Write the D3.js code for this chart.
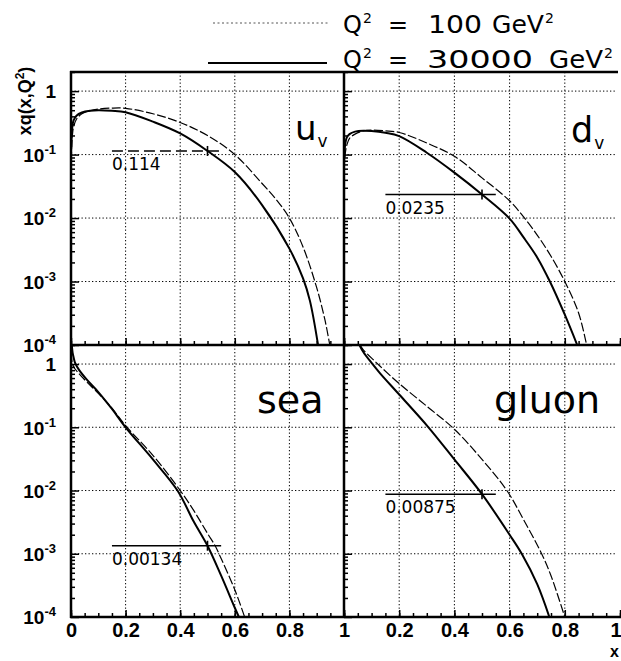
<!DOCTYPE html>
<html>
<head>
<meta charset="utf-8">
<script src="https://cdn.jsdelivr.net/npm/d3@7"></script>
<style>
  html, body { margin: 0; padding: 0; background: #fff; }
  svg { display: block; }
</style>
</head>
<body>
<svg id="chart" width="621" height="661"></svg>
<script>
// Parton distributions x q(x,Q^2) at two scales, four flavours.

// u valence
const uvX100   = [0.001,0.003,0.006,0.01,0.02,0.04,0.07,0.1,0.15,0.2,0.3,0.4,0.5,0.6,0.7,0.75,0.8,0.85,0.9,0.93,0.948];
const uvQ100   = [0.08,0.15,0.22,0.28,0.36,0.44,0.49,0.52,0.54,0.536,0.44,0.32,0.20,0.10,0.035,0.02,0.0100,0.0035,0.0008,0.00025,0.0001];
const uvX30000 = [0.001,0.003,0.006,0.01,0.02,0.04,0.07,0.1,0.15,0.2,0.3,0.4,0.5,0.6,0.7,0.8,0.85,0.875,0.905];
const uvQ30000 = [0.13,0.22,0.30,0.35,0.41,0.46,0.49,0.50,0.49,0.465,0.33,0.215,0.114,0.053,0.016,0.0033,0.00112,0.0005,0.0001];

// d valence
const dvX100   = [0.001,0.003,0.006,0.01,0.02,0.04,0.07,0.1,0.15,0.2,0.3,0.4,0.5,0.6,0.65,0.7,0.75,0.8,0.85,0.879];
const dvQ100   = [0.06,0.09,0.115,0.14,0.18,0.21,0.235,0.242,0.236,0.223,0.152,0.094,0.043,0.0187,0.0105,0.0054,0.0025,0.001,0.00032,0.0001];
const dvX30000 = [0.001,0.003,0.006,0.01,0.02,0.04,0.07,0.1,0.15,0.2,0.3,0.4,0.5,0.6,0.65,0.7,0.746,0.8,0.845];
const dvQ30000 = [0.09,0.13,0.16,0.185,0.21,0.23,0.238,0.235,0.22,0.195,0.107,0.052,0.0235,0.0098,0.005,0.0024,0.001,0.0003,0.0001];

// sea
const seaX100   = [0.001,0.003,0.01,0.03,0.058,0.1,0.15,0.2,0.3,0.4,0.45,0.5,0.528,0.542,0.6,0.636];
const seaQ100   = [1.5,1.15,0.9,0.70,0.52,0.345,0.2,0.106,0.036,0.01,0.0048,0.0021,0.00134,0.001,0.00027,0.0001];
const seaX30000 = [0.001,0.003,0.006,0.01,0.015,0.03,0.058,0.1,0.15,0.2,0.3,0.39,0.45,0.5,0.55,0.6,0.615];
const seaQ30000 = [3.2,2.0,1.5,1.25,1.04,0.80,0.565,0.36,0.195,0.1,0.031,0.01,0.0032,0.00134,0.00045,0.00014,0.0001];

// gluon
const gX100   = [0.058,0.07,0.1,0.13,0.2,0.3,0.4,0.5,0.59,0.65,0.716,0.75,0.8];
const gQ100   = [2.0,1.68,1.24,0.93,0.49,0.215,0.093,0.031,0.01,0.0035,0.001,0.00045,0.0001];
const gX30000 = [0.056,0.07,0.1,0.13,0.2,0.306,0.4,0.5,0.6,0.644,0.7,0.744];
const gQ30000 = [2.0,1.55,1.04,0.72,0.33,0.1,0.031,0.00875,0.002,0.001,0.00033,0.0001];

// reference values at x = 0.5 (Q^2 = 30000 GeV^2)
const markNames  = ["uv", "dv", "sea", "gluon"];
const markX      = [0.5, 0.5, 0.5, 0.5];
const markValues = [0.114, 0.0235, 0.00134, 0.00875];
const markLabels = ["0.114", "0.0235", "0.00134", "0.00875"];
const markFrom   = [0.15, 0.15, 0.15, 0.15];
const markTo     = [0.55, 0.55, 0.55, 0.55];

// axis ticks
const xTickValues   = [0, 0.2, 0.4, 0.6, 0.8, 1];
const yDecades      = [1, 1e-1, 1e-2, 1e-3, 1e-4];
const yDecadeLabels = ["1", "10|-1", "10|-2", "10|-3", "10|-4"];

const legendLabels = [
  { q: "Q", eq: "=", num: "100",   unit: "GeV" },
  { q: "Q", eq: "=", num: "30000", unit: "GeV" }
];

const svg = d3.select("#chart");
const TICK_FONT = "'Liberation Sans', Arial, sans-serif";
const LABEL_FONT = "'DejaVu Sans', sans-serif";

// panel layout
const colRange = [[71, 344], [344, 620]];
const rowRange = [[345, 72], [617, 345]];

const panels = [
  { name: "uv",    col: 0, row: 0, lo: [uvX100, uvQ100],   hi: [uvX30000, uvQ30000],   title: "u", sub: "v", tx: 295, ty: 140, fs: 34, markDash: "11,5" },
  { name: "dv",    col: 1, row: 0, lo: [dvX100, dvQ100],   hi: [dvX30000, dvQ30000],   title: "d", sub: "v", tx: 571, ty: 142, fs: 35, markDash: null },
  { name: "sea",   col: 0, row: 1, lo: [seaX100, seaQ100], hi: [seaX30000, seaQ30000], title: "sea",   sub: "", tx: 257, ty: 413, fs: 38, markDash: null },
  { name: "gluon", col: 1, row: 1, lo: [gX100, gQ100],     hi: [gX30000, gQ30000],     title: "gluon", sub: "", tx: 494, ty: 413, fs: 38, markDash: null }
];

const minorY = [];
for (let e = -4; e <= 0; e++) {
  for (let m = 2; m <= 9; m++) {
    const v = m * Math.pow(10, e);
    if (v <= 2) minorY.push(v);
  }
}
const minorX = d3.range(0, 1.0001, 0.05);

const defs = svg.append("defs");

panels.forEach((p, i) => {
  const x = d3.scaleLinear().domain([0, 1]).range(colRange[p.col]);
  const y = d3.scaleLog().domain([1e-4, 2]).range(rowRange[p.row]);
  const g = svg.append("g").attr("class", "panel-" + p.name);

  const x0 = x.range()[0], x1 = x.range()[1];
  const yb = y.range()[0], yt = y.range()[1];

  defs.append("clipPath").attr("id", "clip-" + p.name)
    .append("rect").attr("x", x0).attr("y", yt).attr("width", x1 - x0).attr("height", yb - yt);

  // dotted grid
  const grid = g.append("g").attr("stroke", "#000").attr("stroke-width", 1).attr("stroke-dasharray", "1.3,2.2");
  grid.selectAll("line.gx").data([0.2, 0.4, 0.6, 0.8]).join("line")
    .attr("x1", d => x(d)).attr("x2", d => x(d)).attr("y1", yt).attr("y2", yb);
  grid.selectAll("line.gy").data([1, 1e-1, 1e-2, 1e-3]).join("line")
    .attr("y1", d => y(d)).attr("y2", d => y(d)).attr("x1", x0).attr("x2", x1 - 4);

  // inward ticks on the bottom and left axes
  const bMinor = g.append("g").attr("transform", `translate(0,${yb})`)
    .call(d3.axisBottom(x).tickValues(minorX).tickSize(-4).tickFormat(""));
  const bMajor = g.append("g").attr("transform", `translate(0,${yb})`)
    .call(d3.axisBottom(x).tickValues(xTickValues).tickSize(-7).tickFormat(""));
  const lMinor = g.append("g").attr("transform", `translate(${x0},0)`)
    .call(d3.axisRight(y).tickValues(minorY).tickSize(4).tickFormat(""));
  const lMajor = g.append("g").attr("transform", `translate(${x0},0)`)
    .call(d3.axisRight(y).tickValues(yDecades).tickSize(8).tickFormat(""));
  [bMinor, bMajor, lMinor, lMajor].forEach(a => {
    a.select(".domain").remove();
    a.selectAll("line").attr("stroke", "#000").attr("stroke-width", 1.5);
  });

  // curves
  const line = d3.line()
    .x(d => x(d[0]))
    .y(d => y(d[1]))
    .curve(d3.curveCatmullRom.alpha(0.5));
  const curves = g.append("g").attr("clip-path", `url(#clip-${p.name})`).attr("fill", "none");
  curves.append("path")
    .datum(d3.zip(p.lo[0], p.lo[1]))
    .attr("d", line)
    .attr("stroke", "#000").attr("stroke-width", 1.2).attr("stroke-dasharray", "9,2.5");
  curves.append("path")
    .datum(d3.zip(p.hi[0], p.hi[1]))
    .attr("d", line)
    .attr("stroke", "#000").attr("stroke-width", 2);

  // reference value marker
  const mk = markNames.indexOf(p.name);
  const my = y(markValues[mk]);
  g.append("line")
    .attr("x1", x(markFrom[mk])).attr("x2", x(markTo[mk]))
    .attr("y1", my).attr("y2", my)
    .attr("stroke", "#000").attr("stroke-width", 1.6)
    .attr("stroke-dasharray", p.markDash);
  g.append("line")
    .attr("x1", x(markX[mk])).attr("x2", x(markX[mk]))
    .attr("y1", my - 5).attr("y2", my + 5)
    .attr("stroke", "#000").attr("stroke-width", 1.6);
  g.append("text")
    .attr("x", x(markFrom[mk]))
    .attr("y", my + 19)
    .attr("font-family", LABEL_FONT).attr("font-size", 17)
    .text(markLabels[mk]);

  // panel title
  const t = g.append("text")
    .attr("x", p.tx).attr("y", p.ty)
    .attr("font-family", LABEL_FONT).attr("font-size", p.fs)
    .text(p.title);
  if (p.sub) {
    t.append("tspan").attr("font-size", 17).attr("dy", 7).attr("dx", 1).text(p.sub);
  }

  // y tick labels on the left column
  if (p.col === 0) {
    const ya = g.append("g").attr("transform", `translate(${x0},0)`)
      .call(d3.axisLeft(y).tickValues(yDecades).tickSize(0).tickPadding(15)
        .tickFormat((d, k) => yDecadeLabels[k]));
    ya.select(".domain").remove();
    ya.selectAll("text")
      .attr("font-family", TICK_FONT).attr("font-size", 19).attr("font-weight", "bold")
      .attr("fill", "#000").attr("dy", "0.36em")
      .each(function () {
        const s = d3.select(this);
        const parts = s.text().split("|");
        s.text(parts[0]);
        if (parts[1]) {
          s.append("tspan").attr("font-size", 13).attr("dy", -8).text(parts[1]);
        }
      });
  }

  // x tick labels on the bottom row
  if (p.row === 1) {
    const vals = p.col === 0 ? xTickValues : xTickValues.slice(1);
    const xa = g.append("g").attr("transform", `translate(0,${yb})`)
      .call(d3.axisBottom(x).tickValues(vals).tickSize(0).tickPadding(6).tickFormat(d3.format("~g")));
    xa.select(".domain").remove();
    xa.selectAll("text")
      .attr("font-family", TICK_FONT).attr("font-size", 20).attr("font-weight", "bold").attr("fill", "#000");
    // keep the last label inside the page edge
    if (p.col === 1) {
      xa.selectAll("text").filter(d => d === 1).attr("text-anchor", "end").attr("x", 1);
    }
  }
});

// frame
const frame = svg.append("g").attr("stroke", "#000").attr("stroke-width", 2.5).attr("fill", "none");
frame.append("line").attr("x1", 71).attr("x2", 71).attr("y1", 71).attr("y2", 618);
frame.append("line").attr("x1", 344).attr("x2", 344).attr("y1", 71).attr("y2", 618);
frame.append("line").attr("x1", 70).attr("x2", 618).attr("y1", 72).attr("y2", 72);
frame.append("line").attr("x1", 70).attr("x2", 621).attr("y1", 345).attr("y2", 345);
frame.append("line").attr("x1", 70).attr("x2", 621).attr("y1", 617).attr("y2", 617);

// axis titles
const yTitle = svg.append("text")
  .attr("transform", "translate(31,101) rotate(-90)")
  .attr("text-anchor", "middle")
  .attr("font-family", TICK_FONT).attr("font-size", 18).attr("font-weight", "bold")
  .text("xq(x,Q");
yTitle.append("tspan").attr("font-size", 12).attr("dy", -7).text("2");
yTitle.append("tspan").attr("dy", 7).text(")");

svg.append("text")
  .attr("x", 610).attr("y", 657)
  .attr("font-family", TICK_FONT).attr("font-size", 16).attr("font-weight", "bold")
  .text("x");

// legend
const legend = svg.append("g");
const legRows = [
  { y: 23, base: 33, dash: "2,2.5", width: 1, color: "#555", x1: 213, x2: 328,
    pos: { eq: 388, num: 428, numLen: 54, unit: 492, unitLen: 52 } },
  { y: 63, base: 68, dash: null, width: 1.8, color: "#000", x1: 208, x2: 327,
    pos: { eq: 388, num: 427, numLen: 106, unit: 549, unitLen: 54 } }
];
legRows.forEach((r, i) => {
  legend.append("line")
    .attr("x1", r.x1).attr("x2", r.x2).attr("y1", r.y).attr("y2", r.y)
    .attr("stroke", r.color).attr("stroke-width", r.width)
    .attr("stroke-dasharray", r.dash);
  const lab = legendLabels[i];
  const t = legend.append("text")
    .attr("y", r.base)
    .attr("font-family", LABEL_FONT).attr("font-size", 24);
  t.append("tspan").attr("x", 343).text(lab.q);
  t.append("tspan").attr("font-size", 14).attr("dy", -10).attr("dx", 1).text("2");
  t.append("tspan").attr("x", r.pos.eq).attr("dy", 10).text(lab.eq);
  t.append("tspan").attr("x", r.pos.num)
    .attr("textLength", r.pos.numLen).attr("lengthAdjust", "spacingAndGlyphs").text(lab.num);
  t.append("tspan").attr("x", r.pos.unit)
    .attr("textLength", r.pos.unitLen).attr("lengthAdjust", "spacingAndGlyphs").text(lab.unit);
  t.append("tspan").attr("font-size", 14).attr("dy", -10).attr("dx", 1).text("2");
});
</script>
</body>
</html>
